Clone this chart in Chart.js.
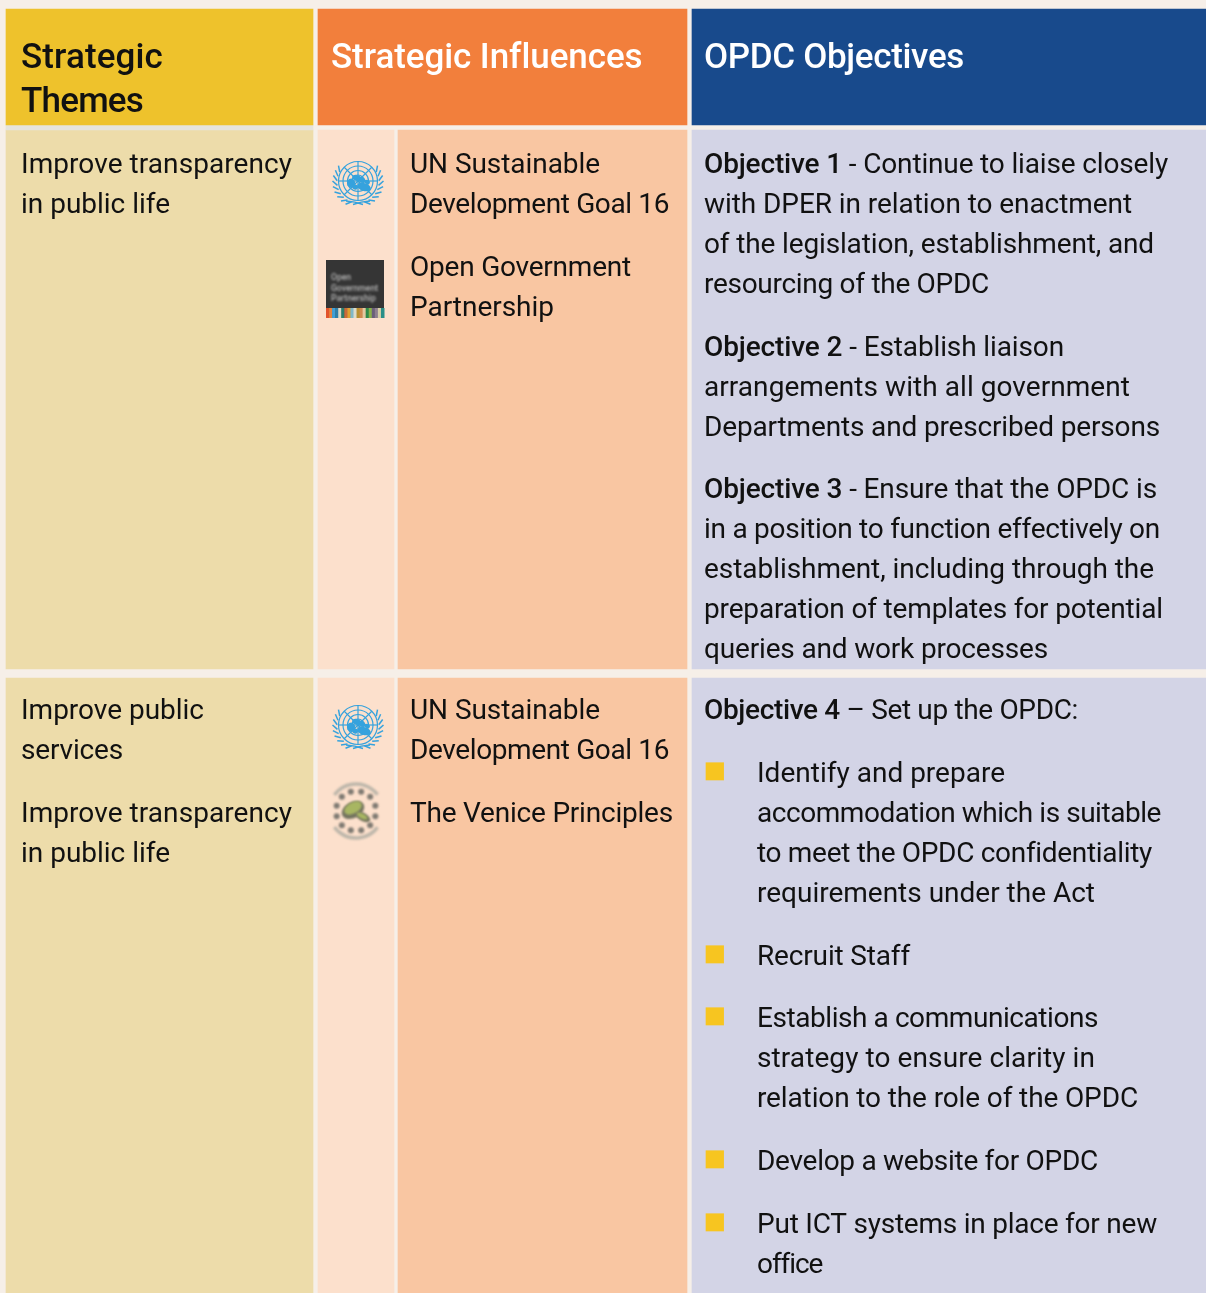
<!DOCTYPE html>
<html>
<head>
<meta charset="utf-8">
<style>html,body{margin:0;padding:0;background:#f6efe8}canvas{display:block}</style>
<script src="https://cdn.jsdelivr.net/npm/chart.js@4/dist/chart.umd.js"></script>
</head>
<body>
<canvas id="c" width="1206" height="1293"></canvas>
<script>
// ---- content ----
const headerThemes = ['Strategic', 'Themes'];
const headerInfluences = ['Strategic Influences'];
const headerObjectives = ['OPDC Objectives'];
const themesRow1 = ['Improve transparency', 'in public life'];
const themesRow2 = ['Improve public', 'services', 'Improve transparency', 'in public life'];
const influencesRow1 = ['UN Sustainable', 'Development Goal 16', 'Open Government', 'Partnership'];
const influencesRow2 = ['UN Sustainable', 'Development Goal 16', 'The Venice Principles'];
const objectivesRow1 = [
  'Objective 1 - Continue to liaise closely', 'with DPER in relation to enactment',
  'of the legislation, establishment, and', 'resourcing of the OPDC',
  'Objective 2 - Establish liaison', 'arrangements with all government',
  'Departments and prescribed persons',
  'Objective 3 - Ensure that the OPDC is', 'in a position to function effectively on',
  'establishment, including through the', 'preparation of templates for potential',
  'queries and work processes'];
const objectivesRow2 = [
  'Objective 4 – Set up the OPDC:',
  'Identify and prepare', 'accommodation which is suitable',
  'to meet the OPDC confidentiality', 'requirements under the Act',
  'Recruit Staff',
  'Establish a communications', 'strategy to ensure clarity in', 'relation to the role of the OPDC',
  'Develop a website for OPDC',
  'Put ICT systems in place for new', 'office'];
// cell extents (table grid units)
const rowHeader = [9, 125];
const rowHeaderRule = [125, 130];
const rowOne = [130, 669];
const rowTwo = [678, 1293];
const columnThemes = [6, 313];
const columnInfluences = [318, 687];
const columnLogos = [318, 394];
const columnInfluenceText = [398, 687];
const columnObjectives = [692, 1206];
const columnBullets = [706, 723.6];
const bulletSpans = [[762.7, 780], [945.7, 963], [1007.7, 1025], [1150.7, 1168], [1213.7, 1231]];

// ---- layout & style ----
const C = {page:'#f6efe8', yellow:'#eec22c', orange:'#f27f3c', blue:'#184a8c',
  themes:'#eddcaa', logos:'#fce0cc', infl:'#f9c6a2', obj:'#d3d4e6', bullet:'#f7c520', rule:'#e6e4dc'};
const FONT = 'Roboto';
const bodyFont = '400 28px ' + FONT, boldFont = '500 28px ' + FONT, headFont = '500 35px ' + FONT;
const B = {
  hThemes:[68,112], hInf:[68], hObj:[68],
  t1:[173,213], t2:[719,759,822,862],
  i1:[173,213,276,316], i2:[719,759,822],
  o1:[173,213,253,293,356,396,436,498,538,578,618,658],
  o2:[719,782,822,862,902,965,1027,1067,1107,1170,1233,1273]
};
// right-hand ends of each text line; spacing is fitted to them
const R = {
  hThemes:[163,143], hInf:[642], hObj:[964],
  t1:[292,170], t2:[204,123,292,170],
  i1:[600,669,631,554], i2:[600,669,673],
  o1:[1168,1132,1154,989,1064,1130,1160,1157,1160,1154,1163,1048],
  o2:[1078,1005,1161,1151,1095,910,1098,1095,1138,1098,1157,820]
};
const cx = r => (r[0] + r[1]) / 2, w = r => r[1] - r[0];
const cell = (col, row) => ({x: cx(col), y: row});
const barSet = (col, rows, color) => ({type:'bar', data:rows.map(r => cell(col, r)), backgroundColor:color,
  borderWidth:0, barThickness:w(col), grouped:false});

function drawText(ctx, lines, baselines, rights, x, font, color) {
  ctx.textBaseline = 'alphabetic'; ctx.textAlign = 'left'; ctx.fillStyle = color;
  lines.forEach((s, i) => {
    const m = s.match(/^Objective \d/);
    const head = m ? m[0] : '', rest = s.slice(head.length);
    ctx.letterSpacing = '0px';
    ctx.font = boldFont; const wh = head ? ctx.measureText(head).width : 0;
    ctx.font = font; const wr = ctx.measureText(rest).width;
    const ls = (rights[i] - x - wh - wr) / s.length;
    ctx.letterSpacing = ls + 'px';
    let px = x;
    if (head) {
      ctx.font = boldFont; ctx.fillText(head, px, baselines[i]);
      px += ctx.measureText(head).width;
    }
    ctx.font = font; ctx.fillText(rest, px, baselines[i]);
  });
  ctx.letterSpacing = '0px';
}

function drawUN(ctx, x, y) {
  const c = '#35a2dd';
  ctx.save(); ctx.strokeStyle = c; ctx.fillStyle = c; ctx.lineWidth = 1.2;
  [19.5, 15, 10.5, 6].forEach(r => { ctx.beginPath(); ctx.arc(x, y, r, 0, Math.PI*2); ctx.stroke(); });
  for (let k = 0; k < 8; k++) {
    const a = k*Math.PI/4;
    ctx.beginPath(); ctx.moveTo(x, y); ctx.lineTo(x+19.5*Math.cos(a), y+19.5*Math.sin(a)); ctx.stroke();
  }
  const blobs = [[-7,2,4,4.5],[-1,-3,5,3],[6,6,7,4],[4,-1,3,3],[-3,6,3,2.5],[9,1,3,2]];
  blobs.forEach(b => { ctx.beginPath(); ctx.ellipse(x+b[0], y+b[1], b[2], b[3], 0.3, 0, Math.PI*2); ctx.fill(); });
  ctx.lineWidth = 1.5;
  [-1, 1].forEach(s => {
    for (let k = 0; k < 9; k++) {
      const a = -0.5 + k*0.22;
      const r0 = 20.8, r1 = 25.5;
      const ax = x + s*r0*Math.cos(a), ay = y + r0*Math.sin(a)+1;
      const bx = x + s*r1*Math.cos(a-0.2), by = y + r1*Math.sin(a-0.2)+1;
      ctx.beginPath(); ctx.moveTo(ax, ay); ctx.lineTo(bx, by); ctx.stroke();
    }
    ctx.beginPath(); ctx.moveTo(x + s*12, y + 20); ctx.quadraticCurveTo(x + s*3, y + 20.5, x - s*5, y + 23.5); ctx.stroke();
  });
  ctx.restore();
}

function drawOGP(ctx, x, y, side) {
  ctx.save();
  ctx.fillStyle = '#353535'; ctx.fillRect(x, y, side, side);
  const stripes = ['#e2542c','#e8823a','#3f9fd6','#2f7fa8','#d9d9c9','#2b7f6e','#c96a3a','#e0a030','#7fb8c8','#dcdccc','#b9902f','#d08a50','#e4c8a0','#2e8a4a','#8ab04a','#6a5f7a','#8d7f8f','#d8cfa8','#2a8f88'];
  stripes.forEach((col, i) => { ctx.fillStyle = col; ctx.fillRect(x + i*side/stripes.length, y+side-10, side/stripes.length+0.5, 10); });
  ctx.filter = 'blur(1px)'; ctx.fillStyle = '#b4b4b4'; ctx.font = '500 8.6px ' + FONT;
  ['Open','Government','Partnership'].forEach((s, i) => ctx.fillText(s, x+5, y+20+i*10.5));
  ctx.restore();
}

function drawVenice(ctx, x, y) {
  ctx.save(); ctx.filter = 'blur(1.3px)';
  ctx.strokeStyle = '#bdb6aa'; ctx.lineWidth = 3.5;
  [[-2.5,-0.65],[0.65,2.5]].forEach(a => { ctx.beginPath(); ctx.arc(x, y, 27, a[0], a[1]); ctx.stroke(); });
  ctx.fillStyle = '#7f7a72';
  for (let k = 0; k < 12; k++) {
    const a = (k+0.5)*2*Math.PI/12;
    ctx.beginPath(); ctx.arc(x+20*Math.cos(a), y+20*Math.sin(a), 3, 0, Math.PI*2); ctx.fill();
  }
  ctx.fillStyle = '#74745f';
  ctx.beginPath(); ctx.ellipse(x-3, y-1, 12, 8, -0.5, 0, Math.PI*2); ctx.fill();
  ctx.beginPath(); ctx.ellipse(x+7, y+6, 8, 4, 0.5, 0, Math.PI*2); ctx.fill();
  ctx.fillStyle = '#a8b662';
  ctx.beginPath(); ctx.ellipse(x-3, y-3, 9.5, 5.5, -0.5, 0, Math.PI*2); ctx.fill();
  ctx.beginPath(); ctx.ellipse(x+6, y+5, 6, 2.5, 0.5, 0, Math.PI*2); ctx.fill();
  ctx.restore();
}

const tablePlugin = {
  id:'tableText',
  afterDatasetsDraw(chart) {
    const ctx = chart.ctx, sx = chart.scales.x, sy = chart.scales.y;
    const X = v => sx.getPixelForValue(v), Y = v => sy.getPixelForValue(v);
    ctx.save();
    const black = '#111111';
    drawText(ctx, headerThemes, B.hThemes, R.hThemes, X(21), headFont, black);
    drawText(ctx, headerInfluences, B.hInf, R.hInf, X(331), headFont, '#ffffff');
    drawText(ctx, headerObjectives, B.hObj, R.hObj, X(704), headFont, '#ffffff');
    drawText(ctx, themesRow1, B.t1, R.t1, X(21), bodyFont, black);
    drawText(ctx, themesRow2, B.t2, R.t2, X(21), bodyFont, black);
    drawText(ctx, influencesRow1, B.i1, R.i1, X(410), bodyFont, black);
    drawText(ctx, influencesRow2, B.i2, R.i2, X(410), bodyFont, black);
    drawText(ctx, objectivesRow1, B.o1, R.o1, X(704), bodyFont, black);
    // first line at the cell's text edge, the rest indented past the bullets
    drawText(ctx, objectivesRow2.slice(0,1), B.o2.slice(0,1), R.o2.slice(0,1), X(704), bodyFont, black);
    drawText(ctx, objectivesRow2.slice(1), B.o2.slice(1), R.o2.slice(1), X(757), bodyFont, black);
    drawUN(ctx, X(358), Y(181));
    drawUN(ctx, X(358), Y(725));
    drawOGP(ctx, X(326), Y(260), 58);
    drawVenice(ctx, X(356), Y(811));
    ctx.restore();
  }
};

new Chart(document.getElementById('c'), {
  data: { datasets: [
    // the first dataset is painted last, so the bullets lead the list
    barSet(columnBullets, bulletSpans, C.bullet),
    barSet(columnThemes, [rowHeader], C.yellow),
    barSet(columnInfluences, [rowHeader], C.orange),
    barSet(columnObjectives, [rowHeader], C.blue),
    barSet(columnThemes, [rowHeaderRule], C.rule),
    barSet(columnThemes, [rowOne, rowTwo], C.themes),
    barSet(columnLogos, [rowOne, rowTwo], C.logos),
    barSet(columnInfluenceText, [rowOne, rowTwo], C.infl),
    barSet(columnObjectives, [rowOne, rowTwo], C.obj)
  ]},
  options: {
    responsive:false, animation:false, events:[],
    layout:{padding:0},
    plugins:{legend:{display:false}, tooltip:{enabled:false}},
    scales:{
      x:{type:'linear', min:0, max:1206, display:false, offset:false},
      y:{type:'linear', min:0, max:1293, reverse:true, display:false}
    }
  },
  plugins:[tablePlugin]
});
</script>
</body>
</html>
